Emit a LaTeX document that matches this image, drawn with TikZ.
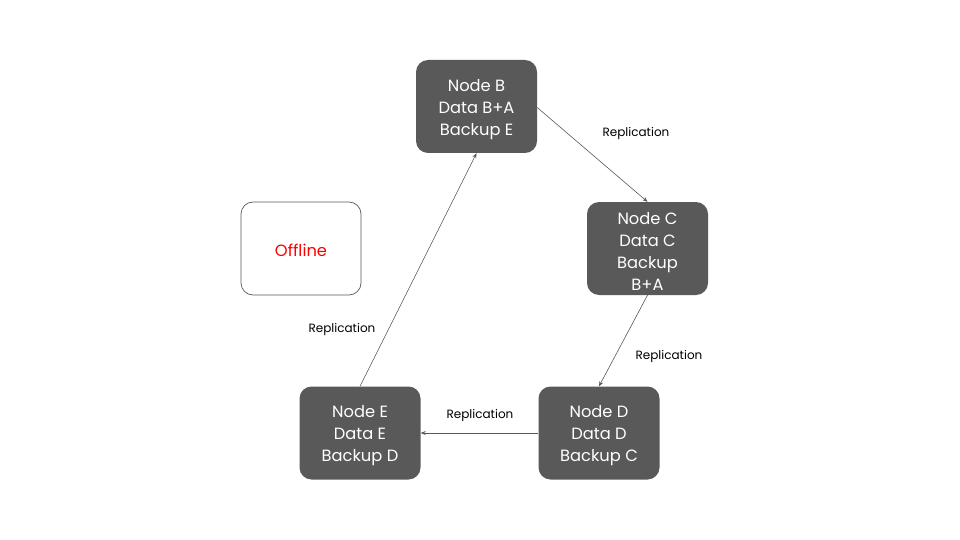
\documentclass[tikz,border=0pt]{standalone}
\usepackage{fontspec}
\setmainfont{Poppins}
\usetikzlibrary{arrows.meta}
\definecolor{boxgray}{HTML}{595959}
\definecolor{linegray}{HTML}{595959}
\definecolor{offred}{HTML}{FF0000}
\tikzset{
  x=1pt, y=-1pt,
  nodebox/.style={rectangle, rounded corners=12pt, fill=boxgray,
    minimum width=121pt, minimum height=93pt, inner sep=0pt},
  nodetext/.style={text=white, align=center, inner sep=0pt,
    font=\fontsize{16.3}{22}\selectfont},
  offbox/.style={rectangle, rounded corners=12pt, draw=linegray, line width=0.7pt, fill=white,
    minimum width=120pt, minimum height=93pt, inner sep=0pt},
  offtext/.style={text=offred, inner sep=0pt, font=\fontsize{16.3}{22}\selectfont},
  repl/.style={line width=0.6pt, draw=linegray, -{Stealth[length=5pt,width=4pt]}},
  lbl/.style={font=\fontsize{12}{14}\selectfont, text=black, inner sep=0pt}
}
\begin{document}
\begin{tikzpicture}
\useasboundingbox (0,0) rectangle (960,540);
\node[nodebox] (B) at (476.5,106.5) {};
\node[nodetext] (Bt) at (476.5,109.5) {Node B\\Data B+A\\Backup E};
\node[nodebox] (C) at (647.5,248.5) {};
\node[nodetext] (Ct) at (647.5,251) {Node C\\Data C\\Backup\\B+A};
\node[offbox] (O) at (301,248.5) {};
\node[offtext] (Ot) at (301,250.5) {Offline};
\node[nodebox] (E) at (360,433) {};
\node[nodetext] (Et) at (360,436) {Node E\\Data E\\Backup D};
\node[nodebox] (D) at (599,433) {};
\node[nodetext] (Dt) at (599,436) {Node D\\Data D\\Backup C};
\draw[repl] ([yshift=-1pt]B.east) -- (C.north);
\draw[repl] (C.south) -- (D.north);
\draw[repl] (D.west) -- (E.east);
\draw[repl] (E.north) -- (B.south);
\node[lbl] (l1) at (636,133) {Replication};
\node[lbl] (l2) at (669,356) {Replication};
\node[lbl] (l3) at (480,415) {Replication};
\node[lbl] (l4) at (342,329) {Replication};
\end{tikzpicture}
\end{document}
